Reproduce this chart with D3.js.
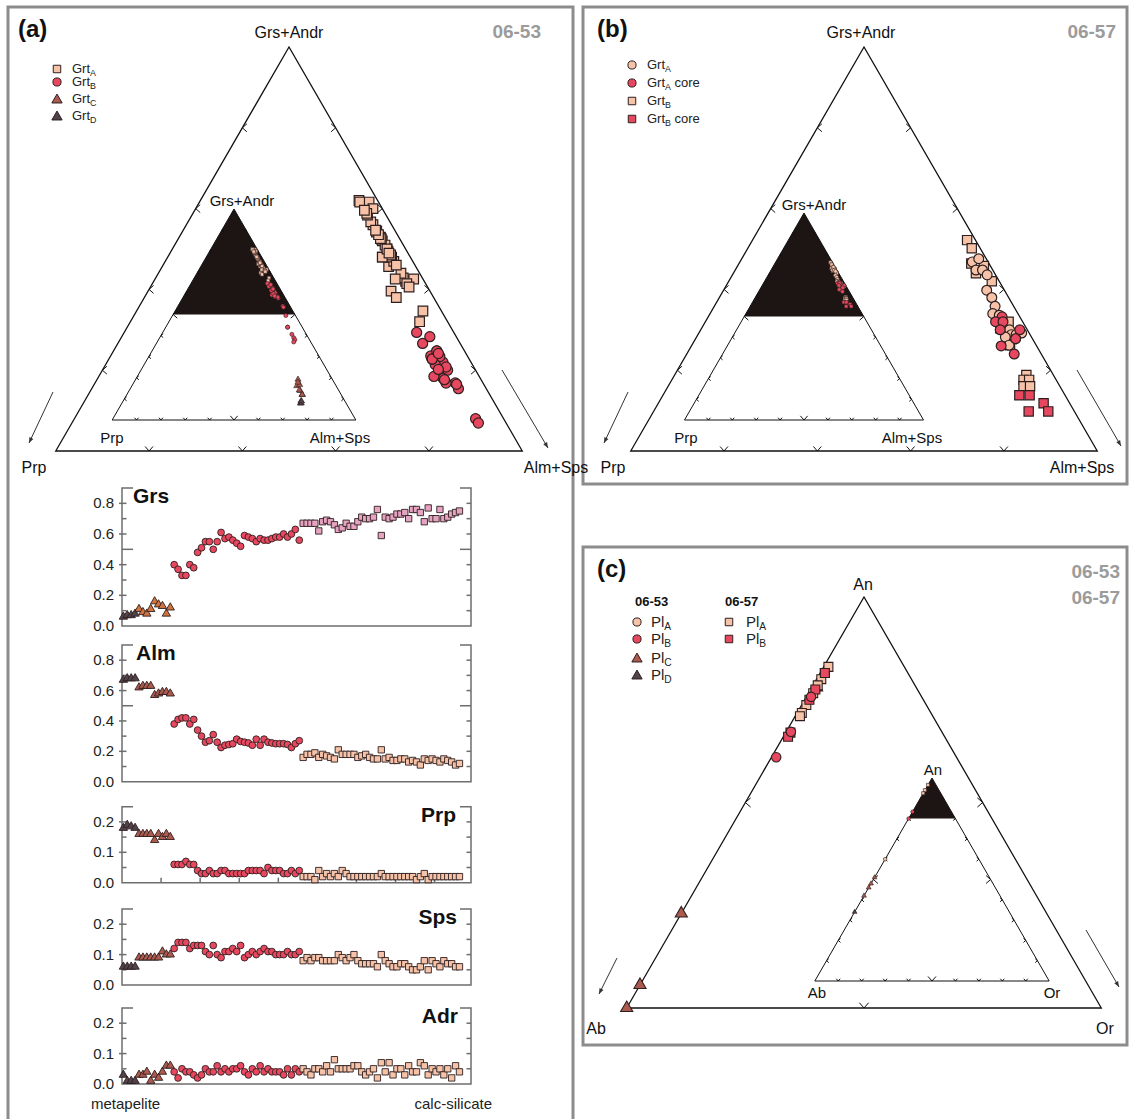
<!DOCTYPE html>
<html><head><meta charset="utf-8"><title>Garnet and plagioclase compositions</title>
<script src="https://cdn.jsdelivr.net/npm/d3@7/dist/d3.min.js"></script>
<style>html,body{margin:0;padding:0;background:#fff}svg{display:block}</style>
</head><body>
<svg id="fig" width="1135" height="1119" xmlns="http://www.w3.org/2000/svg"></svg>
<script>
// ================= DATA =================
// Garnet profile (sample 06-53), analyses ordered from metapelite to calc-silicate
const profileEndLabels = ["metapelite", "calc-silicate"];
const profileTickLabelsWide = [0, 0.2, 0.4, 0.6, 0.8];
const profileTickLabelsNarrow = [0, 0.1, 0.2];
// Grt_D (4), Grt_C (9), Grt_B (33), Grt_A (41)
const grsD = [0.06,0.07,0.07,0.08];
const grsC = [0.11,0.09,0.08,0.11,0.16,0.14,0.13,0.08,0.12];
const grsB = [0.40,0.37,0.33,0.33,0.40,0.38,0.48,0.51,0.55,0.55,0.50,0.55,0.61,0.57,0.58,0.56,0.54,0.52,0.59,0.58,0.57,0.55,0.57,0.56,0.56,0.57,0.58,0.58,0.60,0.58,0.60,0.63,0.56];
const grsA = [0.67,0.67,0.67,0.67,0.62,0.68,0.69,0.68,0.66,0.63,0.64,0.67,0.65,0.65,0.68,0.71,0.70,0.70,0.71,0.76,0.59,0.71,0.70,0.71,0.73,0.73,0.74,0.70,0.76,0.76,0.74,0.68,0.77,0.70,0.70,0.76,0.70,0.71,0.73,0.74,0.75];

const almD = [0.67,0.68,0.68,0.68];
const almC = [0.62,0.63,0.63,0.63,0.57,0.58,0.59,0.59,0.58];
const almB = [0.38,0.41,0.42,0.42,0.38,0.41,0.34,0.30,0.26,0.27,0.31,0.26,0.225,0.24,0.245,0.25,0.28,0.265,0.26,0.255,0.24,0.28,0.24,0.28,0.26,0.255,0.25,0.25,0.25,0.245,0.225,0.25,0.27];
const almA = [0.16,0.18,0.18,0.19,0.16,0.18,0.17,0.16,0.15,0.21,0.18,0.18,0.18,0.18,0.16,0.17,0.18,0.16,0.15,0.15,0.21,0.15,0.16,0.14,0.14,0.15,0.15,0.13,0.14,0.13,0.11,0.15,0.14,0.15,0.14,0.13,0.15,0.14,0.13,0.11,0.12];

const prpD = [0.18,0.19,0.185,0.18];
const prpC = [0.16,0.16,0.16,0.16,0.14,0.16,0.15,0.16,0.15];
const prpB = [0.06,0.06,0.06,0.07,0.06,0.06,0.04,0.03,0.03,0.04,0.03,0.03,0.04,0.04,0.03,0.03,0.03,0.03,0.03,0.04,0.04,0.04,0.04,0.03,0.05,0.04,0.04,0.04,0.03,0.03,0.04,0.03,0.04];
const prpA = [0.02,0.02,0.02,0.01,0.04,0.02,0.03,0.02,0.03,0.02,0.04,0.03,0.02,0.02,0.02,0.02,0.02,0.02,0.02,0.02,0.03,0.02,0.02,0.02,0.02,0.02,0.02,0.02,0.02,0.01,0.02,0.03,0.01,0.02,0.02,0.02,0.02,0.02,0.02,0.02,0.02];

const spsD = [0.06,0.06,0.06,0.06];
const spsC = [0.09,0.09,0.09,0.09,0.09,0.09,0.11,0.10,0.10];
const spsB = [0.12,0.14,0.14,0.14,0.12,0.13,0.13,0.13,0.11,0.10,0.13,0.10,0.09,0.11,0.11,0.12,0.11,0.13,0.09,0.10,0.11,0.10,0.11,0.12,0.11,0.11,0.10,0.10,0.10,0.11,0.10,0.10,0.11];
const spsA = [0.08,0.09,0.08,0.09,0.09,0.08,0.08,0.08,0.08,0.10,0.09,0.08,0.09,0.10,0.08,0.07,0.07,0.07,0.07,0.06,0.10,0.08,0.07,0.06,0.06,0.07,0.07,0.06,0.05,0.05,0.06,0.08,0.05,0.08,0.07,0.06,0.08,0.07,0.07,0.06,0.06];

const adrD = [0.03,0.01,0.01,0.01];
const adrC = [0.03,0.03,0.04,0.01,0.03,0.02,0.04,0.06,0.06];
const adrB = [0.04,0.02,0.05,0.04,0.04,0.03,0.02,0.03,0.05,0.04,0.04,0.06,0.04,0.05,0.04,0.05,0.05,0.06,0.04,0.03,0.05,0.04,0.06,0.04,0.05,0.04,0.04,0.04,0.03,0.05,0.03,0.05,0.04];
const adrA = [0.05,0.04,0.03,0.05,0.05,0.04,0.06,0.04,0.08,0.05,0.05,0.05,0.05,0.06,0.06,0.04,0.03,0.04,0.05,0.02,0.07,0.04,0.07,0.03,0.05,0.05,0.03,0.06,0.04,0.04,0.07,0.06,0.03,0.05,0.04,0.05,0.03,0.05,0.02,0.06,0.04];

// Sample 06-57 garnet: Grs+Andr and Prp fractions
const g57ArimGA = [0.734,0.738,0.724,0.724,0.718,0.699,0.690,0.679,0.670,0.668,0.658,0.650,0.650,0.644,0.641,0.644,0.646,0.631,0.639];
const g57ArimPrp = [0.017,0.008,0.018,0.011,0.009,0.019,0.018,0.020,0.027,0.021,0.024,0.025,0.019,0.020,0.028,0.015,0.008,0.029,0.018];
const g57AcoreGA = [0.666,0.660,0.660,0.650,0.650,0.639,0.630,0.620];
const g57AcorePrp = [0.019,0.029,0.021,0.029,0.008,0.018,0.038,0.029];
const g57BrimGA = [0.761,0.751,0.732,0.720,0.729,0.710,0.660,0.652,0.648,0.631,0.594,0.588,0.588,0.580,0.580];
const g57BrimPrp = [0.009,0.009,0.019,0.020,0.007,0.008,0.015,0.028,0.023,0.028,0.029,0.035,0.029,0.039,0.032];
const g57BcoreGA = [0.569,0.569,0.559,0.549,0.549];
const g57BcorePrp = [0.049,0.038,0.028,0.049,0.028];

// Plagioclase: An and Or fractions (Ab = rest)
const pl53A_An = [0.775,0.765];          const pl53A_Or = [0.01,0.01];
const pl53B_An = [0.757,0.672,0.61];     const pl53B_Or = [0.01,0.01,0.01];
const pl53C_An = [0.23,0.056,0.0];       const pl53C_Or = [0.0,0.0,0.0];
const pl53D_An = [0.78];                 const pl53D_Or = [0.01];
const pl57A_An = [0.83,0.815,0.80,0.785,0.766,0.737,0.718,0.71];
const pl57A_Or = [0.01,0.01,0.01,0.01,0.01,0.01,0.01,0.01];
const pl57B_An = [0.815,0.775,0.75,0.67,0.66];
const pl57B_Or = [0.01,0.01,0.01,0.01,0.01];
// plagioclase as plotted in the small overview triangle
const plInset57A_An = [0.966,0.94,0.925];
const plInset53B_An = [0.834,0.80];
const plInset53A_An = [0.60];
const plInset53C_An = [0.51,0.48,0.46,0.42];
const plInset53D_An = [0.34];

// ================= DRAWING =================
const FF = "'Liberation Sans', Arial, Helvetica, sans-serif";
const svg = d3.select("#fig");
svg.append("rect").attr("width",1135).attr("height",1119).attr("fill","#fff");

const COL = {
  grtA:"#f6c3a9", grtAgrs:"#e6a4c2", grtB:"#e8485f", grtC:"#ad5a4e", grtCgrs:"#cf733f", grtD:"#524249",
  red:"#e8485f", peach:"#f6c3a9", edge:"#2e1f1f"
};

// ---- panel frames ----
const frame = svg.append("g").attr("fill","none").attr("stroke","#8c8c8c").attr("stroke-width",3);
frame.append("rect").attr("x",8).attr("y",7).attr("width",565).attr("height",1140);
frame.append("rect").attr("x",583).attr("y",7).attr("width",544).attr("height",477);
frame.append("rect").attr("x",583).attr("y",547).attr("width",544).attr("height",498);

function txt(g, x, y, s, o = {}) {
  return g.append("text").attr("x",x).attr("y",y).attr("font-family",FF)
    .attr("font-size",o.size||16).attr("font-weight",o.weight||"normal")
    .attr("fill",o.fill||"#111").attr("text-anchor",o.anchor||"start").text(s);
}
function subTxt(g, x, y, base, sub, tail, o = {}) {
  const t = g.append("text").attr("x",x).attr("y",y).attr("font-family",FF)
    .attr("font-size",o.size||13).attr("fill","#222");
  t.append("tspan").text(base);
  t.append("tspan").attr("font-size",(o.size||13)*0.68).attr("dy",3).text(sub);
  if (tail) t.append("tspan").attr("dy",-3).text(tail);
  return t;
}
function symbolPath(type, area) { return d3.symbol().type(type).size(area)(); }
function drawPts(g, pts, type, area, fill, sw = 1, stroke = COL.edge) {
  g.append("g").selectAll("path").data(pts).join("path")
    .attr("d", symbolPath(type, area))
    .attr("transform", d => `translate(${d[0]},${d[1]})`)
    .attr("fill", fill).attr("stroke", stroke).attr("stroke-width", sw);
}

// ---- panel labels ----
txt(svg,18,37,"(a)",{size:24,weight:"bold"});
txt(svg,597,37,"(b)",{size:24,weight:"bold"});
txt(svg,597,577,"(c)",{size:24,weight:"bold"});
txt(svg,541,38,"06-53",{size:19,weight:"bold",fill:"#9b9b9b",anchor:"end"});
txt(svg,1116,38,"06-57",{size:19,weight:"bold",fill:"#9b9b9b",anchor:"end"});
txt(svg,1120,578,"06-53",{size:19,weight:"bold",fill:"#9b9b9b",anchor:"end"});
txt(svg,1120,604,"06-57",{size:19,weight:"bold",fill:"#9b9b9b",anchor:"end"});

// ---- ternary helpers ----
function makeTern(ax, ay, by, gmin) {
  const half = (by - ay) / Math.sqrt(3);
  const y = d3.scaleLinear().domain([gmin, 1]).range([by, ay]);
  const xr = d3.scaleLinear().domain([gmin, 1]).range([ax + half, ax]);
  const pw = d3.scaleLinear().domain([0, 1 - gmin]).range([0, 2 * half]);
  return { A:[ax,ay], L:[ax-half,by], R:[ax+half,by], gmin,
           pos:(gv, pv) => [xr(gv) - pw(pv), y(gv)] };
}
const lerp = (P, Q, t) => [P[0] + (Q[0]-P[0])*t, P[1] + (Q[1]-P[1])*t];
function chevron(g, P, dir, size, ang = 0.72) {
  const r = a => [dir[0]*Math.cos(a) - dir[1]*Math.sin(a), dir[0]*Math.sin(a) + dir[1]*Math.cos(a)];
  const u = r(ang), v = r(-ang);
  g.append("path").attr("d", `M${P[0]+u[0]*size},${P[1]+u[1]*size}L${P[0]},${P[1]}L${P[0]+v[0]*size},${P[1]+v[1]*size}`)
    .attr("fill","none").attr("stroke","#111").attr("stroke-width",1);
}
function drawTriangle(T, o) {
  const g = svg.append("g");
  if (o.blackTop) {
    const m1 = lerp(T.A, T.L, 0.5), m2 = lerp(T.A, T.R, 0.5);
    g.append("path").attr("d", `M${T.A}L${m1}L${m2}Z`).attr("fill","#1d1414");
  }
  g.append("path").attr("d", `M${T.A}L${T.L}L${T.R}Z`).attr("fill","none")
    .attr("stroke","#111").attr("stroke-width",o.sw||1.3).attr("stroke-linejoin","miter");
  o.ticks.forEach(f => {
    const big = o.bigAt !== undefined && Math.abs(f - o.bigAt) < 1e-6;
    const s = big ? o.bigSize : o.size;
    chevron(g, lerp(T.A, T.L, f), [1,0], s);
    chevron(g, lerp(T.A, T.R, f), [-1,0], s);
    chevron(g, lerp(T.L, T.R, f), [0,-1], s);
  });
  return g;
}
function arrowLine(x1, y1, x2, y2) {
  const g = svg.append("g");
  g.append("line").attr("x1",x1).attr("y1",y1).attr("x2",x2).attr("y2",y2)
    .attr("stroke","#333").attr("stroke-width",1);
  const a = Math.atan2(y2-y1, x2-x1), L = 6, w = 0.38;
  g.append("path").attr("d", `M${x2},${y2}L${x2-L*Math.cos(a-w)},${y2-L*Math.sin(a-w)}L${x2-L*Math.cos(a+w)},${y2-L*Math.sin(a+w)}Z`)
    .attr("fill","#333");
}

// ================= PANEL (a) =================
const groups = [
  { key:"D", type:d3.symbolTriangle, grs:grsD, alm:almD, prp:prpD, sps:spsD, adr:adrD },
  { key:"C", type:d3.symbolTriangle, grs:grsC, alm:almC, prp:prpC, sps:spsC, adr:adrC },
  { key:"B", type:d3.symbolCircle,   grs:grsB, alm:almB, prp:prpB, sps:spsB, adr:adrB },
  { key:"A", type:d3.symbolSquare,   grs:grsA, alm:almA, prp:prpA, sps:spsA, adr:adrA }
];
let idx = 0;
groups.forEach(gr => { gr.start = idx; idx += gr.grs.length; });
function grtFill(key, comp) {
  if (key === "A") return comp === "grs" ? COL.grtAgrs : COL.grtA;
  if (key === "B") return COL.grtB;
  if (key === "C") return comp === "grs" ? COL.grtCgrs : COL.grtC;
  return COL.grtD;
}
function ternGrt(gr, i) {
  const ga = gr.grs[i] + gr.adr[i], p = gr.prp[i], a = gr.alm[i] + gr.sps[i];
  const s = ga + p + a;
  return [ga / s, p / s];
}

// main triangle (Grs+Andr >= 50%)
const tA = makeTern(289, 47, 451, 0.5);
drawTriangle(tA, { ticks:[0.2,0.4,0.6,0.8], size:6 });
// inset (full triangle)
const tAi = makeTern(234, 209, 420, 0);
drawTriangle(tAi, { ticks:[0.1,0.2,0.3,0.4,0.5,0.6,0.7,0.8,0.9], size:3, bigAt:0.5, bigSize:5.5, blackTop:true, sw:1 });

const mainA = svg.append("g");
["A","B"].forEach(k => {
  const gr = groups.find(d => d.key === k);
  const pts = gr.grs.map((_, i) => ternGrt(gr, i)).filter(d => d[0] >= 0.5).map(d => tA.pos(d[0], d[1]));
  drawPts(mainA, pts, gr.type, k === "A" ? 92 : 80, k === "A" ? COL.grtA : COL.grtB, 1.2);
});
const insA = svg.append("g");
["A","B","C","D"].forEach(k => {
  const gr = groups.find(d => d.key === k);
  const pts = gr.grs.map((_, i) => ternGrt(gr, i)).map(d => tAi.pos(d[0], d[1]));
  const fill = k === "A" ? COL.grtA : k === "B" ? COL.grtB : k === "C" ? COL.grtC : COL.grtD;
  drawPts(insA, pts, gr.type, k === "A" ? 12 : k === "B" ? 13 : 16, fill, 0.6);
});
txt(svg,289,38,"Grs+Andr",{anchor:"middle"});
txt(svg,34,473,"Prp",{anchor:"middle"});
txt(svg,556,473,"Alm+Sps",{anchor:"middle"});
txt(svg,242,206,"Grs+Andr",{anchor:"middle",size:15});
txt(svg,112,443,"Prp",{anchor:"middle",size:15});
txt(svg,340,443,"Alm+Sps",{anchor:"middle",size:15});
arrowLine(53,392,29,443);
arrowLine(502,370,548,448);

// legend (a)
const legA = svg.append("g");
const legRows = [69, 82, 99, 116];
drawPts(legA, [[57,legRows[0]]], d3.symbolSquare, 56, COL.grtA, 1);
drawPts(legA, [[57,legRows[1]]], d3.symbolCircle, 52, COL.grtB, 1);
drawPts(legA, [[57,legRows[2]+1]], d3.symbolTriangle, 46, COL.grtC, 1);
drawPts(legA, [[57,legRows[3]+1]], d3.symbolTriangle, 46, COL.grtD, 1);
["A","B","C","D"].forEach((s, i) => subTxt(legA, 72, legRows[i] + 4, "Grt", s));

// ---- profile plots ----
const xP = d3.scaleLinear().domain([0, 89.3]).range([122, 471]);
const plots = [
  { comp:"grs", title:"Grs", y0:626,   y1:488,   max:0.9,  step:0.1,  labels:profileTickLabelsWide,   longAt:0.5, tx:133, ty:503, anchor:"start" },
  { comp:"alm", title:"Alm", y0:781.7, y1:645,   max:0.9,  step:0.1,  labels:profileTickLabelsWide,   longAt:0.5, tx:136, ty:660, anchor:"start" },
  { comp:"prp", title:"Prp", y0:882.7, y1:806.7, max:0.25, step:0.05, labels:profileTickLabelsNarrow, longAt:null, tx:456, ty:822, anchor:"end", xTicks:true },
  { comp:"sps", title:"Sps", y0:985,   y1:909,   max:0.25, step:0.05, labels:profileTickLabelsNarrow, longAt:null, tx:457, ty:924, anchor:"end" },
  { comp:"adr", title:"Adr", y0:1084,  y1:1008,  max:0.25, step:0.05, labels:profileTickLabelsNarrow, longAt:null, tx:458, ty:1023, anchor:"end" }
];
const xl = xP.range()[0], xr = xP.range()[1];
plots.forEach(pl => {
  const y = d3.scaleLinear().domain([0, pl.max]).range([pl.y0, pl.y1]);
  const g = svg.append("g");
  const ax = g.append("g").attr("stroke","#6e6e6e").attr("stroke-width",1.5).attr("fill","none");
  const stub = 11;
  ax.append("path").attr("d", `M${xl+stub},${pl.y1}H${xl}V${pl.y0}H${xr}V${pl.y1}H${xr-stub}`);
  const vals = d3.range(pl.step, pl.max - 1e-6, pl.step);
  vals.forEach(v => {
    const long = pl.longAt !== null && Math.abs(v - pl.longAt) < 1e-6;
    const L = long ? 11 : 4.5;
    ax.append("line").attr("x1",xl).attr("x2",xl+L).attr("y1",y(v)).attr("y2",y(v));
    ax.append("line").attr("x1",xr-L).attr("x2",xr).attr("y1",y(v)).attr("y2",y(v));
  });
  pl.labels.forEach(v => {
    if (v > 0) ax.append("line").attr("x1",xl-3).attr("x2",xl).attr("y1",y(v)).attr("y2",y(v));
    txt(g, 114, y(v) + 5, d3.format(".1f")(v), { size:15, anchor:"end", fill:"#222" });
  });
  if (pl.xTicks) d3.range(10, 89, 10).forEach(t => {
    ax.append("line").attr("x1",xP(t)).attr("x2",xP(t)).attr("y1",pl.y0).attr("y2",pl.y0-5);
  });
  txt(g, pl.tx, pl.ty, pl.title, { size:21, weight:"bold", anchor:pl.anchor, fill:"#111" });
  groups.forEach(gr => {
    const pts = gr[pl.comp].map((v, i) => [xP(gr.start + i + 0.35), y(v)]);
    const area = gr.type === d3.symbolSquare ? 40 : gr.type === d3.symbolCircle ? 36 : 30;
    drawPts(g, pts, gr.type, area, grtFill(gr.key, pl.comp), 0.9);
  });
});
txt(svg,91,1109,profileEndLabels[0],{size:15,fill:"#222"});
txt(svg,492,1109,profileEndLabels[1],{size:15,fill:"#222",anchor:"end"});

// ================= PANEL (b) =================
const tB = makeTern(864, 47, 451, 0.5);
drawTriangle(tB, { ticks:[0.2,0.4,0.6,0.8], size:6 });
const tBi = makeTern(804, 213, 420, 0);
drawTriangle(tBi, { ticks:[0.1,0.2,0.3,0.4,0.5,0.6,0.7,0.8,0.9], size:3, bigAt:0.5, bigSize:5.5, blackTop:true, sw:1 });
const g57 = [
  { ga:g57BrimGA,  p:g57BrimPrp,  type:d3.symbolSquare, fill:COL.peach },
  { ga:g57ArimGA,  p:g57ArimPrp,  type:d3.symbolCircle, fill:COL.peach },
  { ga:g57AcoreGA, p:g57AcorePrp, type:d3.symbolCircle, fill:COL.red },
  { ga:g57BcoreGA, p:g57BcorePrp, type:d3.symbolSquare, fill:COL.red }
];
const mainB = svg.append("g"), insB = svg.append("g");
g57.forEach(s => {
  drawPts(mainB, s.ga.map((v, i) => tB.pos(v, s.p[i])), s.type, s.type === d3.symbolSquare ? 86 : 76, s.fill, 1.2);
  drawPts(insB, s.ga.map((v, i) => tBi.pos(v, s.p[i])), s.type, 12, s.fill, 0.6);
});
txt(svg,861,38,"Grs+Andr",{anchor:"middle"});
txt(svg,613,473,"Prp",{anchor:"middle"});
txt(svg,1082,473,"Alm+Sps",{anchor:"middle"});
txt(svg,814,210,"Grs+Andr",{anchor:"middle",size:15});
txt(svg,686,443,"Prp",{anchor:"middle",size:15});
txt(svg,912,443,"Alm+Sps",{anchor:"middle",size:15});
arrowLine(628,392,604,443);
arrowLine(1077,370,1121,446);
const legB = svg.append("g");
const legBRows = [65, 83, 101, 119];
drawPts(legB, [[632,legBRows[0]]], d3.symbolCircle, 52, COL.peach, 1);
drawPts(legB, [[632,legBRows[1]]], d3.symbolCircle, 52, COL.red, 1);
drawPts(legB, [[632,legBRows[2]]], d3.symbolSquare, 56, COL.peach, 1);
drawPts(legB, [[632,legBRows[3]]], d3.symbolSquare, 56, COL.red, 1);
subTxt(legB, 647, legBRows[0]+4, "Grt", "A");
subTxt(legB, 647, legBRows[1]+4, "Grt", "A", " core");
subTxt(legB, 647, legBRows[2]+4, "Grt", "B");
subTxt(legB, 647, legBRows[3]+4, "Grt", "B", " core");

// ================= PANEL (c) =================
const tC = makeTern(864, 597, 1008, 0);
drawTriangle(tC, { ticks:[0.5], size:7 });
const tCi = makeTern(932, 778, 981, 0);
drawTriangle(tCi, { ticks:[0.1,0.2,0.3,0.4,0.5,0.6,0.7,0.8,0.9], size:3, bigAt:0.5, bigSize:6, sw:1 });
// black top region (An >= 80%)
{
  const m1 = lerp(tCi.A, tCi.L, 0.2), m2 = lerp(tCi.A, tCi.R, 0.2);
  svg.append("path").attr("d", `M${tCi.A}L${m1}L${m2}Z`).attr("fill","#1d1414");
}
const plSets = [
  { an:pl53C_An, or:pl53C_Or, type:d3.symbolTriangle, fill:COL.grtC },
  { an:pl53D_An, or:pl53D_Or, type:d3.symbolTriangle, fill:COL.grtD },
  { an:pl53A_An, or:pl53A_Or, type:d3.symbolCircle, fill:COL.peach },
  { an:pl57A_An, or:pl57A_Or, type:d3.symbolSquare, fill:COL.peach },
  { an:pl57B_An, or:pl57B_Or, type:d3.symbolSquare, fill:COL.red },
  { an:pl53B_An, or:pl53B_Or, type:d3.symbolCircle, fill:COL.red }
];
const mainC = svg.append("g");
plSets.forEach(s => {
  const pts = s.an.map((v, i) => tC.pos(v, 1 - v - s.or[i]));
  const area = s.type === d3.symbolSquare ? 80 : s.type === d3.symbolCircle ? 70 : 64;
  drawPts(mainC, pts, s.type, area, s.fill, 1.1);
});
const insC = svg.append("g");
[
  { an:plInset53C_An, type:d3.symbolTriangle, fill:COL.grtC },
  { an:plInset53D_An, type:d3.symbolTriangle, fill:COL.grtD },
  { an:plInset53A_An, type:d3.symbolCircle, fill:COL.peach },
  { an:plInset57A_An, type:d3.symbolSquare, fill:COL.peach },
  { an:plInset53B_An, type:d3.symbolCircle, fill:COL.red }
].forEach(s => drawPts(insC, s.an.map(v => tCi.pos(v, 1 - v)), s.type, 10, s.fill, 0.6));
txt(svg,863,590,"An",{anchor:"middle"});
txt(svg,596,1034,"Ab",{anchor:"middle"});
txt(svg,1105,1034,"Or",{anchor:"middle"});
txt(svg,933,775,"An",{anchor:"middle",size:15});
txt(svg,817,998,"Ab",{anchor:"middle",size:15});
txt(svg,1052,998,"Or",{anchor:"middle",size:15});
arrowLine(617,958,599,994);
arrowLine(1086,930,1119,987);
// legend (c)
const legC = svg.append("g");
txt(legC,635,606,"06-53",{size:13,weight:"bold"});
txt(legC,725,606,"06-57",{size:13,weight:"bold"});
const legCRows = [622, 639, 658, 675];
drawPts(legC, [[637,legCRows[0]]], d3.symbolCircle, 52, COL.peach, 1);
drawPts(legC, [[637,legCRows[1]]], d3.symbolCircle, 52, COL.red, 1);
drawPts(legC, [[637,legCRows[2]+1]], d3.symbolTriangle, 46, COL.grtC, 1);
drawPts(legC, [[637,legCRows[3]+1]], d3.symbolTriangle, 46, COL.grtD, 1);
["A","B","C","D"].forEach((s, i) => subTxt(legC, 651, legCRows[i] + 5, "Pl", s, null, {size:15}));
drawPts(legC, [[729,legCRows[0]]], d3.symbolSquare, 56, COL.peach, 1);
drawPts(legC, [[729,legCRows[1]]], d3.symbolSquare, 56, COL.red, 1);
["A","B"].forEach((s, i) => subTxt(legC, 746, legCRows[i] + 5, "Pl", s, null, {size:15}));
</script>
</body></html>
